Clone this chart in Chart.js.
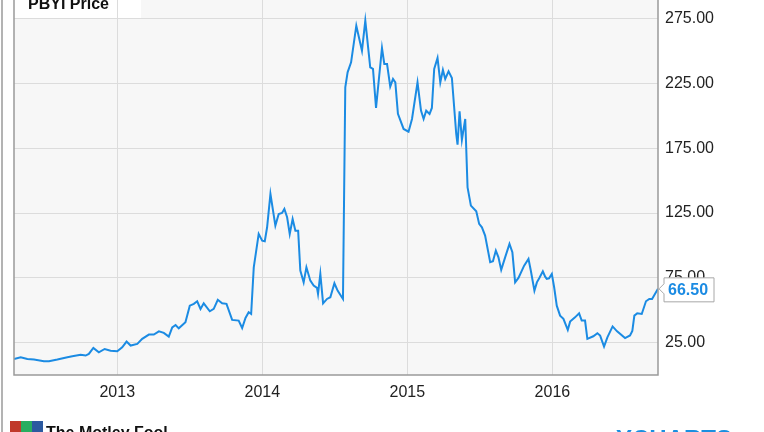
<!DOCTYPE html>
<html>
<head>
<meta charset="utf-8">
<script src="https://cdn.jsdelivr.net/npm/chart.js@4"></script>
<style>
  html, body { margin: 0; padding: 0; background: #fff; }
  canvas { display: block; }
</style>
</head>
<body>
<canvas id="price-chart" width="764" height="432"></canvas>
<script>
// dates as decimal years
const dates = [
  2012.288, 2012.334, 2012.380, 2012.426, 2012.494, 2012.529, 2012.587, 2012.656, 2012.690, 2012.747,
  2012.782, 2012.804, 2012.835, 2012.873, 2012.913, 2012.954, 2013.000, 2013.034, 2013.064, 2013.092,
  2013.138, 2013.172, 2013.218, 2013.252, 2013.287, 2013.321, 2013.355, 2013.379, 2013.402, 2013.424,
  2013.470, 2013.500, 2013.528, 2013.551, 2013.574, 2013.596, 2013.638, 2013.665, 2013.693, 2013.723,
  2013.753, 2013.792, 2013.837, 2013.861, 2013.884, 2013.906, 2013.923, 2013.941, 2013.975, 2013.999,
  2014.017, 2014.033, 2014.056, 2014.090, 2014.113, 2014.136, 2014.152, 2014.171, 2014.189, 2014.209,
  2014.228, 2014.247, 2014.262, 2014.285, 2014.304, 2014.331, 2014.354, 2014.377, 2014.384, 2014.400,
  2014.419, 2014.446, 2014.469, 2014.497, 2014.519, 2014.556, 2014.572, 2014.588, 2014.612, 2014.648,
  2014.687, 2014.710, 2014.744, 2014.763, 2014.784, 2014.825, 2014.841, 2014.860, 2014.882, 2014.901,
  2014.917, 2014.935, 2014.974, 2015.008, 2015.032, 2015.070, 2015.094, 2015.112, 2015.130, 2015.153,
  2015.169, 2015.185, 2015.208, 2015.227, 2015.245, 2015.261, 2015.284, 2015.307, 2015.337, 2015.346,
  2015.360, 2015.376, 2015.399, 2015.415, 2015.438, 2015.475, 2015.495, 2015.514, 2015.536, 2015.571,
  2015.590, 2015.610, 2015.628, 2015.647, 2015.674, 2015.704, 2015.724, 2015.743, 2015.766, 2015.805,
  2015.835, 2015.851, 2015.876, 2015.893, 2015.910, 2015.934, 2015.950, 2015.961, 2015.977, 2015.996,
  2016.012, 2016.030, 2016.053, 2016.076, 2016.106, 2016.122, 2016.156, 2016.184, 2016.202, 2016.225,
  2016.241, 2016.282, 2016.310, 2016.329, 2016.356, 2016.379, 2016.415, 2016.446, 2016.501, 2016.535,
  2016.551, 2016.565, 2016.585, 2016.616, 2016.645, 2016.668, 2016.687, 2016.707, 2016.728
];
const prices = [
  12.4, 13.7, 12.4, 11.9, 10.6, 10.6, 11.9, 13.7, 14.4, 15.7,
  15.0, 16.3, 20.9, 17.5, 20.1, 18.8, 18.3, 21.4, 25.8, 22.7,
  24.0, 27.9, 31.2, 31.2, 33.7, 32.5, 29.6, 36.8, 38.6, 36.0,
  40.7, 53.5, 54.9, 56.9, 51.0, 55.3, 49.2, 51.0, 58.0, 55.3,
  54.9, 42.5, 42.0, 36.3, 44.0, 48.4, 47.1, 83.1, 108.9, 103.7,
  103.2, 114.0, 139.7, 115.3, 124.3, 125.1, 128.2, 121.7, 108.9, 120.4,
  111.4, 111.4, 80.6, 71.5, 83.1, 72.8, 69.0, 67.2, 62.6, 78.0,
  55.3, 58.7, 60.0, 70.8, 65.1, 58.7, 222.0, 233.6, 241.3, 269.6,
  250.3, 273.5, 237.4, 236.2, 206.1, 252.4, 240.0, 240.0, 222.5, 228.5,
  225.8, 201.5, 189.9, 187.8, 197.6, 225.8, 204.0, 197.6, 204.0, 201.5,
  206.1, 236.2, 244.7, 225.8, 235.4, 228.5, 234.3, 229.2, 186.0, 177.8,
  203.5, 181.4, 197.6, 144.8, 130.7, 126.3, 116.6, 114.0, 107.6, 87.0,
  87.8, 96.0, 90.8, 81.1, 90.8, 101.2, 94.7, 71.5, 74.9, 84.4,
  89.6, 80.6, 65.1, 71.5, 74.9, 80.0, 75.9, 74.2, 74.6, 78.0,
  67.7, 53.5, 45.8, 43.3, 34.8, 41.2, 44.5, 47.6, 42.0, 42.0,
  27.9, 29.9, 32.2, 30.4, 21.9, 29.1, 37.5, 33.7, 28.5, 30.5,
  34.0, 45.8, 47.6, 47.1, 56.9, 58.7, 58.7, 62.6, 66.5
];
const yearTicks = [2013, 2014, 2015, 2016];
const priceTicks = [25, 75, 125, 175, 225, 275];
const lastPrice = "66.50";

const lineBlue = "#1b8be3";

const framePlugin = {
    id: "frame",
    beforeDraw(chart) {
        const {ctx, chartArea: a} = chart;
        ctx.save();
        ctx.fillStyle = "#f7f7f7";
        ctx.fillRect(a.left, a.top, a.right - a.left, a.bottom - a.top);
        // white box behind the title
        ctx.fillStyle = "#ffffff";
        ctx.fillRect(a.left, 0, 127, 18);
        ctx.restore();
    },
    afterDraw(chart) {
        const {ctx, chartArea: a} = chart;
        ctx.save();
        // outer frame line and plot borders
        ctx.strokeStyle = "#9a9a9a";
        ctx.lineWidth = 1.5;
        ctx.beginPath();
        ctx.moveTo(2, 0); ctx.lineTo(2, 432);
        ctx.moveTo(a.left, 0); ctx.lineTo(a.left, a.bottom);
        ctx.lineTo(a.right, a.bottom); ctx.lineTo(a.right, 0);
        ctx.stroke();

        // title
        ctx.fillStyle = "#111";
        ctx.font = "bold 16px 'Liberation Sans', Arial, sans-serif";
        ctx.textBaseline = "alphabetic";
        ctx.textAlign = "left";
        ctx.fillText("PBYI Price", 28, 9);

        // last value tag
        const meta = chart.getDatasetMeta(0);
        const pt = meta.data[meta.data.length - 1];
        const px = pt.x, py = pt.y;
        const bx = 664, bw = 50, bh = 24, by = py - 11;
        ctx.beginPath();
        ctx.moveTo(px + 1, py);
        ctx.lineTo(bx, py - 5);
        ctx.lineTo(bx, by);
        ctx.lineTo(bx + bw, by);
        ctx.lineTo(bx + bw, by + bh);
        ctx.lineTo(bx, by + bh);
        ctx.lineTo(bx, py + 5);
        ctx.closePath();
        ctx.fillStyle = "#ffffff";
        ctx.fill();
        ctx.strokeStyle = "#a8a8a8";
        ctx.lineWidth = 1;
        ctx.stroke();
        ctx.fillStyle = lineBlue;
        ctx.font = "bold 16px 'Liberation Sans', Arial, sans-serif";
        ctx.textBaseline = "middle";
        ctx.fillText(lastPrice, bx + 4, by + bh / 2 + 1);

        // footer logos, cut by the bottom edge
        ctx.fillStyle = "#c0392b";
        ctx.fillRect(10, 421, 11, 11);
        ctx.fillStyle = "#27ae60";
        ctx.fillRect(21, 421, 11, 11);
        ctx.fillStyle = "#2c5aa0";
        ctx.fillRect(32, 421, 11, 11);
        ctx.fillStyle = "#111";
        ctx.font = "bold 16px 'Liberation Sans', Arial, sans-serif";
        ctx.textBaseline = "top";
        ctx.fillText("The Motley Fool", 46, 426);
        ctx.fillStyle = "#1a8fe0";
        ctx.font = "bold 24px 'Liberation Sans', Arial, sans-serif";
        ctx.fillText("YCHARTS", 616, 428);
        ctx.restore();
    }
};

new Chart(document.getElementById("price-chart"), {
    type: "line",
    data: {
        datasets: [{
            label: "PBYI Price",
            data: dates.map((d, i) => ({x: d, y: prices[i]})),
            borderColor: lineBlue,
            borderWidth: 2,
            pointRadius: 0,
            tension: 0,
            fill: false
        }]
    },
    options: {
        responsive: false,
        animation: false,
        layout: {padding: {left: 14, right: 0, top: 0, bottom: 0}},
        plugins: {
            legend: {display: false},
            tooltip: {enabled: false}
        },
        scales: {
            x: {
                type: "linear",
                min: 2012.288,
                max: 2016.728,
                afterBuildTicks: s => { s.ticks = yearTicks.map(v => ({value: v})); },
                afterFit: s => { s.height = 57; s.paddingLeft = 0; s.paddingRight = 0; },
                grid: {color: "#dcdcdc", lineWidth: 1, drawTicks: false},
                border: {display: false},
                ticks: {
                    padding: 8,
                    color: "#222",
                    font: {family: "'Liberation Sans', Arial, sans-serif", size: 16},
                    maxRotation: 0,
                    callback: v => String(v)
                }
            },
            y: {
                position: "right",
                min: 0,
                max: 289.4,
                afterBuildTicks: s => { s.ticks = priceTicks.map(v => ({value: v})); },
                afterFit: s => { s.width = 106; s.paddingTop = 0; s.paddingBottom = 0; },
                grid: {color: "#dcdcdc", lineWidth: 1, drawTicks: false},
                border: {display: false},
                ticks: {
                    padding: 7,
                    color: "#222",
                    font: {family: "'Liberation Sans', Arial, sans-serif", size: 16},
                    callback: v => v.toFixed(2)
                }
            }
        }
    },
    plugins: [framePlugin]
});
</script>
</body>
</html>
